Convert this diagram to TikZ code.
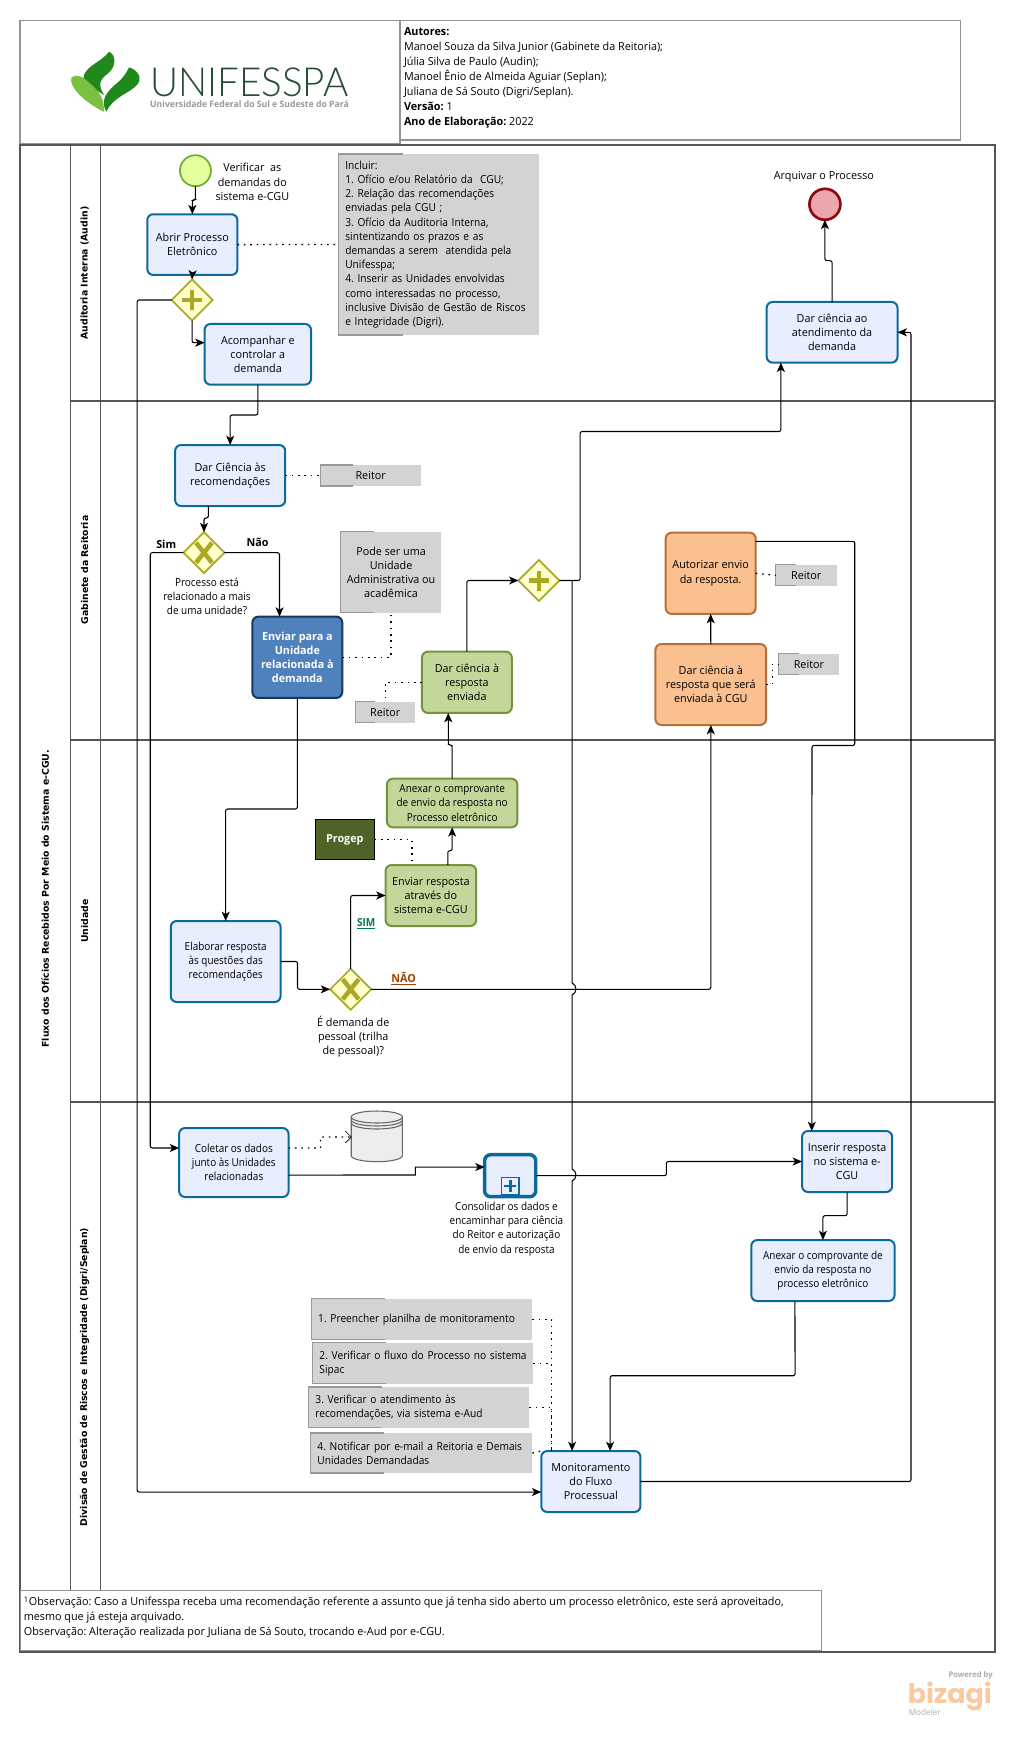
\documentclass[tikz,border=0pt]{standalone}
\usepackage{fontspec}
\usepackage{graphicx}
\setmainfont{Open Sans}[FakeStretch=0.975]
\newfontfamily\condf{Open Sans}[FakeStretch=0.90]
\newfontfamily\notef{Open Sans}[FakeStretch=0.92]
\newfontfamily\lanefont{DejaVu Sans}
\newfontfamily\logofont{Lato}[UprightFont=* Light]
\newfontfamily\bzfont{Poppins}
\usetikzlibrary{shapes.geometric,arrows.meta}
\definecolor{taskfill}{HTML}{E9EEFF}
\definecolor{taskline}{HTML}{0A6A9E}
\definecolor{greenfill}{HTML}{C4D79B}
\definecolor{greenline}{HTML}{76923C}
\definecolor{orangefill}{HTML}{FAC090}
\definecolor{orangeline}{HTML}{B5703A}
\definecolor{bluefill}{HTML}{4F81BD}
\definecolor{blueline}{HTML}{17375E}
\definecolor{notefill}{HTML}{D3D3D3}
\definecolor{noteline}{HTML}{999999}
\definecolor{gwfill}{HTML}{FFFFCC}
\definecolor{gwline}{HTML}{A9A926}
\definecolor{poolline}{HTML}{555555}
\definecolor{leafdark}{HTML}{1F8A1B}
\definecolor{leaflight}{HTML}{7AC043}
\definecolor{logotext}{HTML}{264D33}
\definecolor{startfill}{HTML}{E4FF9E}
\definecolor{startline}{HTML}{6FAF2F}
\definecolor{endfill}{HTML}{EBA7AB}
\definecolor{endline}{HTML}{8B0A14}
\definecolor{progepfill}{HTML}{4F6228}
\definecolor{bzorange}{HTML}{F9C99F}
\definecolor{bzgray}{HTML}{A5ADB3}
\definecolor{simgreen}{HTML}{007A4D}
\definecolor{naobrown}{HTML}{A04000}
\newcommand\tf{\fontsize{8.3}{10.65}\selectfont}
\newcommand\cf{\condf\fontsize{8.3}{10.65}\selectfont}
\newcommand\nf{\notef\fontsize{8.3}{10.65}\selectfont}
\tikzset{
  txt/.style={font=\tf,align=center,inner sep=0pt,outer sep=0pt,text=black},
  sz/.style 2 args={minimum width=#1*0.7463pt,minimum height=#2*0.75pt},
  taskbox/.style={txt,draw=taskline,fill=taskfill,line width=1.5pt,rounded corners=4.5pt},
  greenbox/.style={taskbox,draw=greenline,fill=greenfill},
  orangebox/.style={taskbox,draw=orangeline,fill=orangefill},
  bluebox/.style={taskbox,draw=blueline,fill=bluefill,text=white,font=\tf\bfseries},
  notebox/.style={txt,fill=notefill},
  noteleft/.style={font=\nf,align=left,inner ysep=0pt,outer sep=0pt,fill=notefill,inner xsep=5.25pt,text width=#1*0.7463pt-10.5pt},
  gwbox/.style={diamond,aspect=1,draw=gwline,fill=gwfill,line width=1.3pt,minimum size=41*0.75pt,inner sep=0pt,outer sep=0pt},
  gwsym/.style={line width=3.4pt,draw=gwline},
  flow/.style={draw=black,line width=0.8pt,rounded corners=1.5pt,-{Stealth[length=7pt,width=6pt,inset=1.8pt]}},
  assoc/.style={draw=black,line width=1pt,dash pattern=on 1.2pt off 3.6pt},
  lane/.style={font=\lanefont\fontsize{7}{9}\selectfont\bfseries,rotate=90,inner sep=0pt},
}
\frenchspacing
\newcommand\brk[2]{\draw[noteline,line width=0.8pt] ([xshift=#2*0.75pt]#1.north west) -- (#1.north west) -- (#1.south west) -- ([xshift=#2*0.75pt]#1.south west);}
\newcommand\plusgw[1]{\draw[gwsym] ([xshift=-7.5pt]#1.center) -- ([xshift=7.5pt]#1.center);\draw[gwsym] ([yshift=-7.5pt]#1.center) -- ([yshift=7.5pt]#1.center);}
\newcommand\xgw[1]{\draw[gwsym] ([shift={(-6pt,-7.5pt)}]#1.center) -- ([shift={(6pt,7.5pt)}]#1.center);\draw[gwsym] ([shift={(-6pt,7.5pt)}]#1.center) -- ([shift={(6pt,-7.5pt)}]#1.center);}
\begin{document}
\begin{tikzpicture}[x=0.7463pt,y=-0.75pt]
\useasboundingbox (0,0) rectangle (1019,1745);
\fill[white] (0,0) rectangle (1019,1745);
% header
\draw[draw=gray!85,line width=0.9pt] (20,20.5) rectangle (402,144);
\draw[draw=gray!85,line width=0.9pt] (402,20.5) rectangle (965.5,140);
\node[txt,anchor=north west,align=left,font=\fontsize{8.3}{11.25}\selectfont] (authors) at (406,27.5) {\textbf{Autores:}\\Manoel Souza da Silva Junior (Gabinete da Reitoria);\\Júlia Silva de Paulo (Audin);\\Manoel Ênio de Almeida Aguiar (Seplan);\\Juliana de Sá Souto (Digri/Seplan).\\\textbf{Versão:} 1\\\textbf{Ano de Elaboração:} 2022};
% logo
\begin{scope}[shift={(60.3,40)},xscale=1/3,yscale=1/3]
\fill[leafdark] (148,35) .. controls (170,45) and (170,80) .. (145,100) .. controls (125,115) and (110,130) .. (133,165) .. controls (100,145) and (65,125) .. (72,105) .. controls (85,75) and (125,65) .. (148,35) -- cycle;
\fill[leafdark] (208,82) .. controls (235,90) and (250,115) .. (232,135) .. controls (210,160) and (160,170) .. (140,215) .. controls (125,190) and (130,165) .. (165,135) .. controls (190,115) and (200,100) .. (208,82) -- cycle;
\fill[leaflight] (35,112) .. controls (50,100) and (70,110) .. (90,130) .. controls (115,150) and (135,175) .. (132,215) .. controls (110,205) and (70,180) .. (50,155) .. controls (38,140) and (30,125) .. (35,112) -- cycle;
\end{scope}
\node[inner sep=0pt,text=logotext] (unifesspa) at (250.4,82) {\resizebox{148.7pt}{21.5pt}{\logofont UNIFESSPA}};
\node[inner sep=0pt,text=gray!80] (univ) at (250.7,104.5) {\resizebox{149pt}{!}{\bfseries Universidade Federal do Sul e Sudeste do Pará}};
% pool
\draw[poolline,line width=0.9pt] (20,145) rectangle (1000,1652);
\draw[poolline,line width=0.9pt] (71,145) -- (71,1652);
\draw[poolline,line width=0.7pt] (101.4,145) -- (101.4,1652);
\draw[poolline,line width=0.9pt] (71,401) -- (1000,401);
\draw[poolline,line width=0.9pt] (71,740) -- (1000,740);
\draw[poolline,line width=0.9pt] (71,1102) -- (1000,1102);
\node[lane] (pooltitle) at (45.5,898.7) {Fluxo dos Ofícios Recebidos Por Meio do Sistema e-CGU.};
\node[lane] (l1) at (85,273) {Auditoria Interna (Audin)};
\node[lane] (l2) at (85,570) {Gabinete da Reitoria};
\node[lane] (l3) at (85,921) {Unidade};
\node[lane] (l4) at (85,1377) {Divisão de Gestão de Riscos e Integridade (Digri/Seplan)};
% footer
\node[draw=gray!85,line width=0.9pt,fill=white,anchor=north west,minimum width=805*0.7463pt,minimum height=60*0.75pt,inner sep=0pt] (footbox) at (20,1590) {};
\node[txt,anchor=north west,align=left,font=\fontsize{8.3}{11.25}\selectfont] (foot) at (24,1596.5) {\textsuperscript{1}Observação: Caso a Unifesspa receba uma recomendação referente a assunto que já tenha sido aberto um processo eletrônico, este será aproveitado,\\mesmo que já esteja arquivado.\\Observação: Alteração realizada por Juliana de Sá Souto, trocando e-Aud por e-CGU.};
% events
\node[circle,draw=startline,fill=startfill,line width=1.3pt,minimum size=31*0.75pt,inner sep=0pt,outer sep=0pt] (startev) at (196.4,170.7) {};
\node[txt] (startlab) at (253.6,182) {Verificar\ \ as\\demandas do\\sistema e-CGU};
\node[circle,draw=endline,fill=endfill,line width=2pt,minimum size=31*0.75pt,inner sep=0pt,outer sep=0pt] (endev) at (829,204.3) {};
\node[txt] (endlab) at (828,176.5) {Arquivar o Processo};
% tasks
\node[taskbox,sz={90.6}{60.7}] (abrir) at (193.3,244.6) {Abrir Processo\\Eletrônico};
\node[taskbox,sz={107}{60.7}] (acomp) at (259.1,354.3) {Acompanhar e\\controlar a\\demanda};
\node[taskbox,sz={110.7}{61}] (ciencia) at (231.3,475.5) {Dar Ciência às\\recomendações};
\node[bluebox,sz={90.4}{81.3}] (enviar) at (298.8,657.3) {Enviar para a\\Unidade\\relacionada à\\demanda};
\node[greenbox,sz={90.3}{61.3}] (resp) at (469.2,682.3) {Dar ciência à\\resposta\\enviada};
\node[orangebox,sz={111.3}{81}] (cgu) at (714.3,684.5) {Dar ciência à\\resposta que será\\enviada à CGU};
\node[orangebox,sz={90.5}{81.3}] (autor) at (714.2,573.3) {Autorizar envio\\da resposta.};
\node[taskbox,sz={131.5}{60.7}] (atend) at (836.2,332.3) {Dar ciência ao\\atendimento da\\demanda};
\node[taskbox,sz={110.4}{81},font=\cf] (elab) at (226.8,961.5) {Elaborar resposta\\às questões das\\recomendações};
\node[greenbox,sz={91}{61}] (envresp) at (433,895.5) {Enviar resposta\\através do\\sistema e-CGU};
\node[greenbox,sz={131.2}{48.6},font=\cf] (anex) at (454.4,803) {Anexar o comprovante\\de envio da resposta no\\Processo eletrônico};
\node[taskbox,sz={110}{69},font=\cf] (colet) at (235,1162.5) {Coletar os dados\\junto às Unidades\\relacionadas};
\node[taskbox,sz={51.4}{42},line width=2.6pt] (sub) at (512.7,1175.7) {};
\node[draw=taskline,fill=taskfill,line width=1pt,minimum width=17.5*0.75pt,minimum height=16.5*0.75pt,inner sep=0pt] (subicon) at (512.7,1186) {};
\draw[taskline,line width=2.2pt] ([xshift=-4.5pt]subicon.center) -- ([xshift=4.5pt]subicon.center);
\draw[taskline,line width=2.2pt] ([yshift=-4.5pt]subicon.center) -- ([yshift=4.5pt]subicon.center);
\node[txt,font=\cf] (sublab) at (509,1229) {Consolidar os dados e\\encaminhar para ciência\\do Reitor e autorização\\de envio da resposta};
\node[taskbox,sz={90.6}{61}] (ins) at (851.3,1161.5) {Inserir resposta\\no sistema e-\\CGU};
\node[taskbox,sz={144}{61},font=\cf] (anexc) at (827,1270.5) {Anexar o comprovante de\\envio da resposta no\\processo eletrônico};
\node[taskbox,sz={99.7}{61}] (mon) at (593.8,1481.5) {Monitoramento\\do Fluxo\\Processual};
% gateways
\node[gwbox] (g1) at (193,300) {}; \plusgw{g1}
\node[gwbox] (gx1) at (205,552.7) {}; \xgw{gx1}
\node[gwbox] (g2) at (541.6,580.5) {}; \plusgw{g2}
\node[gwbox] (gx2) at (352.4,989.3) {}; \xgw{gx2}
\node[txt,font=\tf\bfseries] (simlab) at (167,544) {Sim};
\node[txt,font=\tf\bfseries] (naolab) at (258.8,542) {Não};
\node[txt,font=\cf] (gxlab1) at (208,596.5) {Processo está\\relacionado a mais\\de uma unidade?};
\node[txt] (gxlab2) at (355,1036.5) {É demanda de\\pessoal (trilha\\de pessoal)?};
\node[txt,font=\cf\bfseries,text=simgreen] (simb) at (368,924) {\underline{SIM}};
\node[txt,font=\tf\bfseries,text=naobrown] (naob) at (405.7,979) {\underline{NÃO}};
% notes
\node[noteleft=201.6,minimum height=181*0.75pt] (incl) at (440.8,244.5) {Incluir:\\1. Ofício e/ou Relatório da\ \ CGU;\\2. Relação das recomendações\\enviadas pela CGU ;\\3. Ofício da Auditoria Interna,\\sintentizando os prazos e as\\demandas a serem\ \ atendida pela\\Unifesspa;\\4. Inserir as Unidades envolvidas\\como interessadas no processo,\\inclusive Divisão de Gestão de Riscos\\e Integridade (Digri).};
\brk{incl}{65}
\node[notebox,sz={101}{21}] (r1) at (372.5,475.5) {Reitor};
\brk{r1}{33}
\node[notebox,sz={100.8}{80.7}] (pode) at (393,572.3) {Pode ser uma\\Unidade\\Administrativa ou\\acadêmica};
\brk{pode}{33}
\node[notebox,sz={60.4}{20.7}] (r2) at (387.2,712.3) {Reitor};
\brk{r2}{20}
\node[notebox,sz={61.1}{20.7}] (ra) at (810.2,575.3) {Reitor};
\brk{ra}{20}
\node[notebox,sz={60.2}{20.7}] (rb) at (812.9,664.3) {Reitor};
\brk{rb}{20}
\node[draw=black,line width=0.6pt,fill=progepfill,text=white,font=\tf\bfseries,sz={59.9}{40.4},inner sep=0pt,outer sep=0pt] (progep) at (346.5,839.5) {Progep};
\node[noteleft=222.3,minimum height=40.7*0.75pt] (n1) at (423.9,1319.3) {\mbox{1. Preencher planilha de monitoramento}};
\brk{n1}{74}
\node[noteleft=221.8,minimum height=40.7*0.75pt] (n2) at (424.9,1363.3) {\mbox{2. Verificar o fluxo do Processo no sistema}\\Sipac};
\brk{n2}{74}
\node[noteleft=222,minimum height=40.7*0.75pt] (n3) at (421,1407.3) {\mbox{3. Verificar o atendimento às}\\\mbox{recomendações, via sistema e-Aud}};
\brk{n3}{74}
\node[noteleft=223,minimum height=40*0.75pt] (n4) at (423.5,1453) {\mbox{4. Notificar por e-mail a Reitoria e Demais}\\Unidades Demandadas};
\brk{n4}{74}
% data store
\coordinate (ds) at (353,1137);
\draw[draw=gray!80!black,fill=black!7,line width=0.8pt] (353,1117) -- (353,1155.7) arc[start angle=180,end angle=0,x radius=25.7,y radius=6] -- (404.4,1117) arc[start angle=0,end angle=-180,x radius=25.7,y radius=6] -- cycle;
\draw[draw=gray!80!black,line width=0.8pt] (353,1117) arc[start angle=180,end angle=0,x radius=25.7,y radius=6];
\draw[draw=gray!80!black,line width=0.8pt] (353,1120) arc[start angle=180,end angle=0,x radius=25.7,y radius=6];
\draw[draw=gray!80!black,line width=0.8pt] (353,1123) arc[start angle=180,end angle=0,x radius=25.7,y radius=6];
% connectors
\draw[flow] (startev.south) -- (196.4,200) -| (abrir.north);
\draw[flow] (abrir.south) -- (g1.north);
\draw[flow] (g1.south) |- ([yshift=8.7pt]acomp.west);
\draw[flow] (g1.west) -- (137.8,300) |- ([yshift=-7.9pt]mon.west);
\draw[flow] (acomp.south) -- (259.1,415) -| (ciencia.north);
\draw[flow] ([xshift=-16.4pt]ciencia.south) -- (209.4,518) -| (gx1.north);
\draw[flow] (gx1.west) -- (151,552.7) |- ([yshift=10.9pt]colet.west);
\draw[flow] (gx1.east) -| ([xshift=-13.35pt]enviar.north);
\draw[flow] (enviar.south) -- (298.8,809) -| (elab.north);
\draw[flow] (elab.east) -- (299,961.5) |- (gx2.west);
\draw[flow] (gx2.north) |- (envresp.west);
\draw[flow] (gx2.east) -| (cgu.south);
\draw[flow] ([xshift=12.75pt]envresp.north) -- (450,850.7) -| (anex.south);
\draw[flow] (anex.north) -- (454.4,745) -| ([xshift=-13.95pt]resp.south);
\draw[flow] (resp.north) |- (g2.west);
\draw[flow] (g2.east) -- (583,580.5) -- (583,431.5) -| ([xshift=-38.4pt]atend.south);
\coordinate (gs) at (575,580.5);
\draw[flow,rounded corners=0pt] (gs) -- (575,983) .. controls (580,985) and (580,993) .. (575,995) -- (575,1169) .. controls (580,1171) and (580,1179) .. (575,1181) -- ([xshift=-14.1pt]mon.north);
\draw[flow] (cgu.north) -- (autor.south);
\draw[flow] ([yshift=24pt]autor.east) -- (859,541.3) -- (859,745.5) -- (816,745.5) -- ([xshift=-26.5pt]ins.north);
\draw[flow] (atend.north) -- (836.2,260.7) -| (endev.south);
\draw[flow] (mon.east) -- (915.5,1481.5) |- (atend.east);
\draw[flow,rounded corners=0pt] ([yshift=-9.4pt]colet.east) -- (417.4,1175) |- ([yshift=6.5pt]sub.west);
\draw[flow] (sub.east) -- (669.7,1175.7) |- (ins.west);
\draw[flow] (ins.south) -- (851.3,1215.7) -| (anexc.north);
\draw[flow] ([xshift=-21pt]anexc.south) -- (799,1375.7) -| ([xshift=14.4pt]mon.north);
% associations
\draw[assoc] (abrir.east) -- (incl.west);
\draw[assoc] (ciencia.east) -- (r1.west);
\draw[assoc] (enviar.east) -| (pode.south);
\draw[assoc] (resp.west) -| (r2.north);
\draw[assoc] (autor.east) -- (ra.west);
\draw[assoc] (cgu.east) -- (776,684.5) |- (rb.west);
\draw[assoc] (progep.east) -| ([xshift=-14.25pt]envresp.north);
\draw[assoc] ([yshift=10.9pt]colet.east) -- (322,1148) -- (322,1137) -- (ds);
\draw[draw=black,line width=0.5pt] (347,1131) -- (353,1137) -- (347,1143);
\draw[assoc] (n1.east) -| ([xshift=-29.4pt]mon.north);
\draw[assoc] (n2.east) -| ([xshift=-29.4pt]mon.north);
\draw[assoc] (n3.east) -| ([xshift=-29.4pt]mon.north);
\draw[assoc] (n4.east) -- (mon.north west);
% bizagi
\node[inner sep=0pt,text=bzgray,anchor=west] (pw) at (953,1675) {\resizebox{33pt}{!}{\bfseries Powered by}};
\node[inner sep=0pt,text=bzorange,anchor=north west] (bz) at (912,1681.5) {\resizebox{63pt}{!}{\bzfont\bfseries bizagi}};
\node[inner sep=0pt,text=bzgray,anchor=west] (md) at (913,1712) {\resizebox{24pt}{!}{Modeler}};
\end{tikzpicture}
\end{document}
